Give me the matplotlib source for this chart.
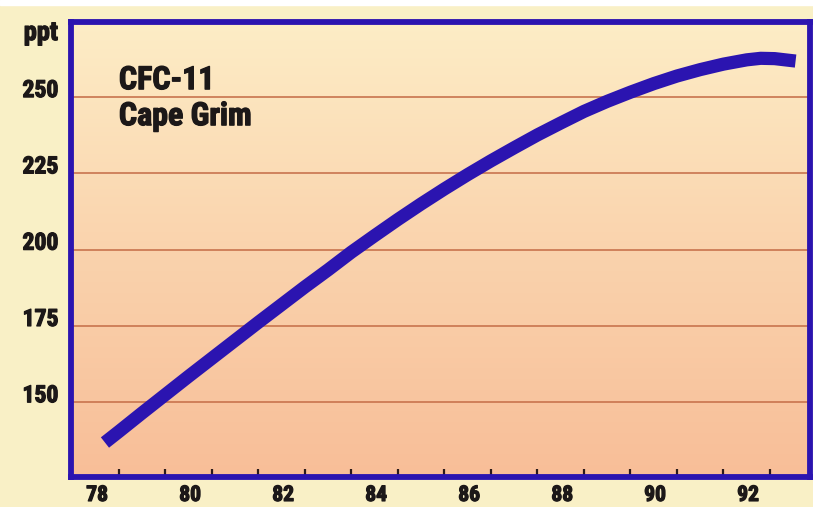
import numpy as np
import matplotlib
matplotlib.use("Agg")
import matplotlib.pyplot as plt
import matplotlib.patheffects as pe
from matplotlib.colors import LinearSegmentedColormap

# ---- data ----
years = [78.7, 79.0, 79.5, 80.0, 80.5, 81.0, 81.5, 82.0, 82.5, 83.0, 83.5,
         84.0, 84.5, 85.0, 85.5, 86.0, 86.5, 87.0, 87.5, 88.0, 88.5, 89.0,
         89.5, 90.0, 90.5, 91.0, 91.5, 92.0, 92.5, 92.8, 93.1, 93.55]
cfc11 = [136.8, 140.4, 146.5, 152.5, 158.5, 164.4, 170.3, 176.2, 182.0, 187.8,
         193.4, 199.2, 204.6, 209.9, 215.0, 219.9, 224.6, 229.1, 233.4, 237.6,
         241.5, 245.3, 248.6, 251.6, 254.4, 256.9, 259.0, 260.8, 262.2, 262.7,
         262.6, 261.8]
xlabels = ["78", "80", "82", "84", "86", "88", "90", "92"]
xlabel_years = [78, 80, 82, 84, 86, 88, 90, 92]
yticks = [150, 175, 200, 225, 250]
minor_ticks = list(range(79, 94))
title_lines = ["CFC-11", "Cape Grim"]
unit = "ppt"

FONT = ["Roboto Condensed", "Roboto", "DejaVu Sans"]
WEIGHT = "bold"
BLUE = "#2B14B0"
GRID = "#C8744E"
BG = "#F9F0C6"
TXT = "#1c1818"
THICK = [pe.withStroke(linewidth=0.9, foreground=TXT)]

W, H = 813, 507
fig = plt.figure(figsize=(W / 100, H / 100), dpi=100, facecolor=BG)
fig.patches.append(plt.Rectangle((0, 1 - 5 / H), 1, 5 / H, transform=fig.transFigure,
                                 color="white", zorder=0))

ax = fig.add_axes([71 / W, 30 / H, (810 - 71) / W, (485 - 30) / H])
ax.set_xlim(77.97, 93.86)
ax.set_ylim(125.5, 274.6)

cmap = LinearSegmentedColormap.from_list("bg", ["#F8BE98", "#FAD3AD", "#FDEDC6"])
grad = np.linspace(0, 1, 256).reshape(-1, 1)
ax.imshow(grad, cmap=cmap, aspect="auto", origin="lower",
          extent=[77.97, 93.86, 125.5, 274.6], zorder=0)

for v in yticks:
    ax.axhline(v, color=GRID, lw=1.2, zorder=1)

ax.plot(years, cfc11, color=BLUE, lw=9.5, solid_capstyle="butt",
        solid_joinstyle="round", zorder=3)

for s in ax.spines.values():
    s.set_color(BLUE)
    s.set_linewidth(4.2)
    s.set_zorder(4)

ax.set_xticks([y + 0.53 for y in xlabel_years])
ax.set_xticklabels(xlabels, family=FONT, weight=WEIGHT, fontsize=15.5, color=TXT)
ax.set_xticks(minor_ticks, minor=True)
ax.tick_params(axis="x", which="major", length=0, pad=5)
ax.tick_params(axis="x", which="minor", direction="in", length=6, width=1.6,
               color="#2a1a1a")

ax.set_yticks(yticks)
ax.set_yticklabels([str(v) for v in yticks], family=FONT, weight=WEIGHT,
                   fontsize=17, color=TXT)
ax.tick_params(axis="y", length=0, pad=9)
for lab in ax.get_yticklabels():
    lab.set_va("baseline")
for lab in ax.get_yticklabels() + ax.get_xticklabels():
    lab.set_path_effects(THICK)

fig.text(58 / W, 1 - 40 / H, unit, ha="right", va="baseline", family=FONT,
         weight=WEIGHT, fontsize=19, color=TXT, path_effects=THICK)

ax.text(79.0, 252.6, title_lines[0], ha="left", va="baseline", family=FONT,
        weight=WEIGHT, fontsize=23, color=TXT, zorder=5, path_effects=THICK)
ax.text(79.0, 240.8, title_lines[1], ha="left", va="baseline", family=FONT,
        weight=WEIGHT, fontsize=23, color=TXT, zorder=5, path_effects=THICK)

fig.savefig("out.png", dpi=100, facecolor=BG)
